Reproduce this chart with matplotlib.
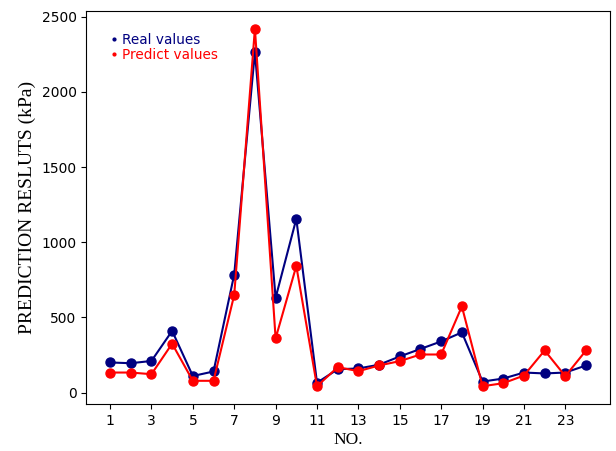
import matplotlib.pyplot as plt
from matplotlib.lines import Line2D

no = list(range(1, 25))
real_values = [200, 195, 210, 410, 110, 140, 785, 2265, 630, 1155, 65, 155,
               160, 185, 240, 290, 340, 400, 73, 93, 133, 127, 133, 180]
predict_values = [133, 133, 122, 325, 78, 78, 649, 2420, 360, 842, 42, 169,
                  142, 180, 209, 253, 253, 573, 42, 62, 113, 280, 109, 280]
xticks = list(range(1, 24, 2))

fig = plt.figure(figsize=(6.16, 4.51), dpi=100)
ax = fig.add_axes([0.14, 0.104, 0.85, 0.872])

ax.plot(no, real_values, color="navy", marker="o", markersize=6.5, linewidth=1.5)
ax.plot(no, predict_values, color="red", marker="o", markersize=6.5, linewidth=1.5)

ax.set_xticks(xticks)
ax.set_xlabel("NO.", fontfamily="Liberation Serif", fontsize=12.5, labelpad=3)
ax.set_ylabel("PREDICTION RESLUTS (kPa)", fontfamily="Liberation Serif", fontsize=14)

# small dots only, no lines, in the legend
handles = [Line2D([], [], color="navy", marker=".", markersize=4, linestyle="none"),
           Line2D([], [], color="red", marker=".", markersize=4, linestyle="none")]
ax.legend(handles, ["Real values", "Predict values"], loc="upper left",
          bbox_to_anchor=(0.021, 0.975), frameon=False, handlelength=0.6,
          handletextpad=0.3, labelspacing=0.05, labelcolor="linecolor",
          fontsize=9.8)

plt.savefig("out.png", dpi=100)
